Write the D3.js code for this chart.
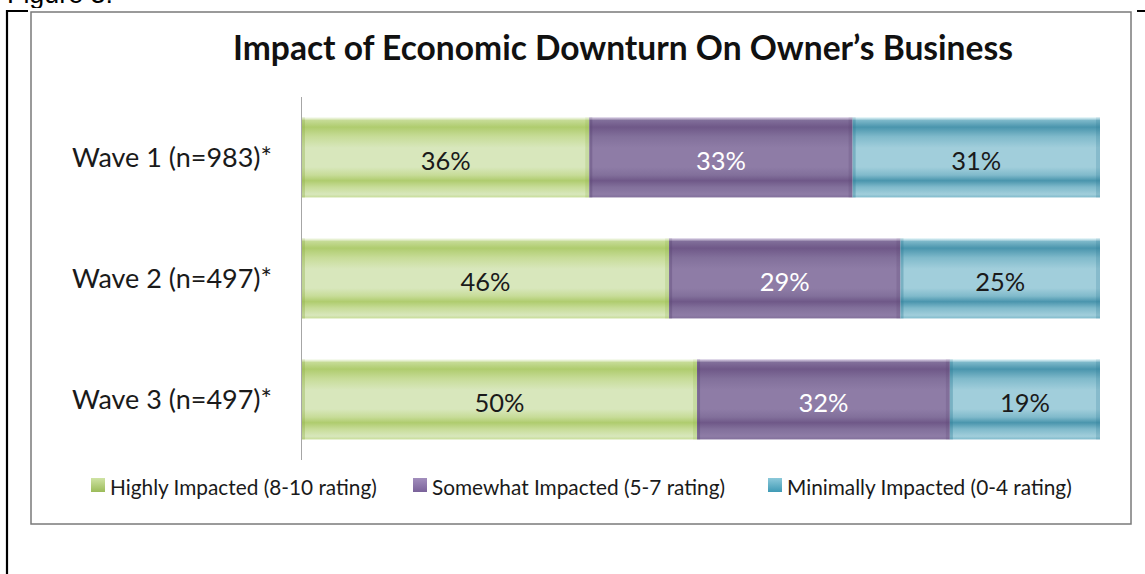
<!DOCTYPE html>
<html>
<head>
<meta charset="utf-8">
<script src="https://cdn.jsdelivr.net/npm/d3@7"></script>
<style>
  html, body { margin: 0; padding: 0; background: #fff; }
  svg { display: block; }
</style>
</head>
<body>
<svg id="chart" width="1145" height="574"></svg>
<script>
// ---- data ----
const categories = ["Wave 1 (n=983)*", "Wave 2 (n=497)*", "Wave 3 (n=497)*"];
const seriesKeys = ["highly", "somewhat", "minimally"];
const seriesNames = [
  "Highly Impacted (8-10 rating)",
  "Somewhat Impacted (5-7 rating)",
  "Minimally Impacted (0-4 rating)"
];
const highly = [36, 46, 50];
const somewhat = [33, 29, 32];
const minimally = [31, 25, 19];
const chartTitle = "Impact of Economic Downturn On Owner\u2019s Business";
const figureLabel = "Figure 3:";

// ---- styling ----
const FONT = "Lato, 'Open Sans', sans-serif";
const palette = {
  highly:    { top: "#e6f0d2", dark: "#afcc6e", mid: "#c7dc98", light: "#d8e7bc", edge: "#8fb048", labelFill: "#1a1a1a", swatch: ["#cfe3a4", "#9bbb59"] },
  somewhat:  { top: "#a893c0", dark: "#6f5888", mid: "#82709b", light: "#8e7ca6", edge: "#5a4472", labelFill: "#ffffff", swatch: ["#a28ebd", "#7a629a"] },
  minimally: { top: "#b6e0ea", dark: "#4a95ad", mid: "#80bacb", light: "#a1cedb", edge: "#2f7c94", labelFill: "#1a1a1a", swatch: ["#8cc9da", "#3f9ab5"] }
};

const rows = categories.map((c, i) => ({
  category: c,
  highly: highly[i],
  somewhat: somewhat[i],
  minimally: minimally[i]
}));

const svg = d3.select("#chart");
const defs = svg.append("defs");

// glossy horizontal-banded gradient for each series
seriesKeys.forEach(k => {
  const p = palette[k];
  const g = defs.append("linearGradient")
    .attr("id", "grad-" + k)
    .attr("x1", 0).attr("y1", 0).attr("x2", 0).attr("y2", 1);
  [
    [0.00, p.top], [0.03, p.mid], [0.12, p.dark], [0.24, p.mid],
    [0.38, p.light], [0.62, p.light], [0.72, p.mid], [0.79, p.dark],
    [0.87, p.mid], [0.96, p.light], [1.00, p.mid]
  ].forEach(([o, c]) => g.append("stop").attr("offset", o).attr("stop-color", c));

  const s = defs.append("linearGradient")
    .attr("id", "swatch-" + k)
    .attr("x1", 0).attr("y1", 0).attr("x2", 0).attr("y2", 1);
  s.append("stop").attr("offset", 0).attr("stop-color", p.swatch[0]);
  s.append("stop").attr("offset", 1).attr("stop-color", p.swatch[1]);
});

// size a font so a string spans a given width
function fitSize(text, weight, width, family) {
  const t = svg.append("text")
    .attr("font-family", family || FONT)
    .attr("font-weight", weight)
    .attr("font-size", 100)
    .text(text);
  const w = t.node().getComputedTextLength();
  t.remove();
  return 100 * width / w;
}

// ---- page frame ----
svg.append("line").attr("x1", 7).attr("x2", 7).attr("y1", 10).attr("y2", 574)
  .attr("stroke", "#000").attr("stroke-width", 2.2);
svg.append("line").attr("x1", 6).attr("x2", 1145).attr("y1", 11).attr("y2", 11)
  .attr("stroke", "#000").attr("stroke-width", 2.2);
svg.append("text")
  .attr("x", 7).attr("y", 3)
  .attr("font-family", "'Liberation Sans', Arial, sans-serif")
  .attr("font-size", fitSize(figureLabel, 400, 106, "'Liberation Sans', Arial, sans-serif"))
  .attr("fill", "#000")
  .text(figureLabel);

// chart area (white panel with grey border)
svg.append("rect").attr("x", 28).attr("y", 8).attr("width", 1109).attr("height", 522).attr("fill", "#fff");
svg.append("rect").attr("x", 31).attr("y", 12).attr("width", 1100).attr("height", 512)
  .attr("fill", "#fff").attr("stroke", "#7a7a7a").attr("stroke-width", 1.5);

// ---- title ----
svg.append("text")
  .attr("x", 623).attr("y", 60)
  .attr("text-anchor", "middle")
  .attr("font-family", FONT)
  .attr("font-weight", 700)
  .attr("font-size", fitSize(chartTitle, 700, 780))
  .attr("fill", "#111")
  .text(chartTitle);

// ---- scales ----
const plot = { left: 301, right: 1100, top: 97, bottom: 460 };
const y = d3.scaleBand()
  .domain(categories)
  .range([plot.top, plot.bottom])
  .paddingInner(0.34)
  .paddingOuter(0.17);
const x = d3.scaleLinear().domain([0, 1]).range([plot.left + 1, plot.right]);

const stacked = d3.stack().keys(seriesKeys).offset(d3.stackOffsetExpand)(rows);

// ---- bars ----
const layers = svg.append("g").selectAll("g.layer")
  .data(stacked)
  .join("g")
  .attr("class", "layer");

layers.each(function (layer) {
  const k = layer.key;
  const p = palette[k];
  const g = d3.select(this);
  layer.forEach(d => {
    const x0 = x(d[0]), x1 = x(d[1]);
    const yy = y(d.data.category), h = y.bandwidth();
    g.append("rect")
      .attr("x", x0).attr("y", yy)
      .attr("width", x1 - x0).attr("height", h)
      .attr("fill", `url(#grad-${k})`);
    // bevelled ends of the segment
    g.append("rect").attr("x", x0).attr("y", yy).attr("width", 3).attr("height", h)
      .attr("fill", p.edge).attr("opacity", 0.35);
    g.append("rect").attr("x", x1 - 4).attr("y", yy).attr("width", 4).attr("height", h)
      .attr("fill", p.edge).attr("opacity", 0.22);
    g.append("rect").attr("x", x0).attr("y", yy).attr("width", x1 - x0).attr("height", 2)
      .attr("fill", "#ffffff").attr("opacity", 0.35);
  });
});

// value labels
const valueSize = fitSize("36%", 400, 50);
layers.each(function (layer) {
  const k = layer.key;
  d3.select(this).selectAll("text.value")
    .data(layer)
    .join("text")
    .attr("class", "value")
    .attr("x", d => (x(d[0]) + x(d[1])) / 2)
    .attr("y", d => y(d.data.category) + y.bandwidth() / 2 + 2)
    .attr("text-anchor", "middle")
    .attr("dominant-baseline", "central")
    .attr("font-family", FONT)
    .attr("font-size", valueSize)
    .attr("fill", palette[k].labelFill)
    .text(d => d.data[k] + "%");
});

// ---- category axis ----
const yAxis = svg.append("g")
  .attr("transform", `translate(${plot.left},0)`)
  .call(d3.axisLeft(y).tickSize(0).tickPadding(29));
yAxis.select(".domain")
  .attr("d", `M0.5,${plot.top}V${plot.bottom}`)
  .attr("stroke", "#a6a6a6");
yAxis.selectAll(".tick text")
  .attr("font-family", FONT)
  .attr("font-size", fitSize(categories[0], 400, 200))
  .attr("fill", "#1a1a1a")
  .attr("dy", "0.35em");

// ---- legend ----
const legendSwatchX = [91, 413, 768];
const legendY = 486;
const legendSize = fitSize(seriesNames[0], 400, 267);
const legend = svg.append("g").selectAll("g")
  .data(seriesKeys)
  .join("g")
  .attr("transform", (d, i) => `translate(${legendSwatchX[i]},${legendY})`);
legend.append("rect")
  .attr("x", 0).attr("y", -8).attr("width", 14).attr("height", 14)
  .attr("fill", d => `url(#swatch-${d})`);
legend.append("text")
  .attr("x", 19).attr("y", 0)
  .attr("dominant-baseline", "central")
  .attr("font-family", FONT)
  .attr("font-size", legendSize)
  .attr("fill", "#1a1a1a")
  .text((d, i) => seriesNames[i]);
</script>
</body>
</html>
